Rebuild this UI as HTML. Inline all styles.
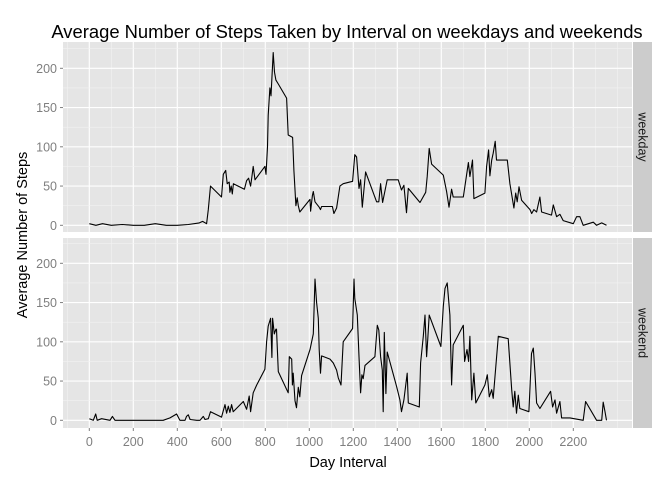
<!DOCTYPE html>
<html><head><meta charset="utf-8"><style>
body{margin:0;background:#fff;}
svg{display:block;font-family:"Liberation Sans",Arial,sans-serif;}
</style></head><body>
<svg id="chart" width="672" height="480" viewBox="0 0 672 480">
<rect width="672" height="480" fill="#fff"/>
<text x="347" y="38" text-anchor="middle" font-size="18.4" fill="#000">Average Number of Steps Taken by Interval on weekdays and weekends</text>
<text transform="translate(27,235) rotate(-90)" text-anchor="middle" font-size="14.5" fill="#000">Average Number of Steps</text>
<text x="348" y="467" text-anchor="middle" font-size="14.5" fill="#000">Day Interval</text>
<g id="panels"></g>
</svg>
<script>
const wdX=[0,30,60,100,150,200,250,300,350,400,450,500,515,533,541,551,601,609,620,627,636,639,645,650,655,705,715,724,733,738,745,753,798,803,810,813,821,826,836,842,848,859,897,904,924,930,939,945,950,957,1003,1006,1014,1018,1026,1045,1051,1056,1105,1112,1124,1139,1154,1197,1207,1215,1226,1233,1241,1256,1306,1316,1324,1333,1354,1404,1419,1430,1442,1450,1503,1529,1536,1545,1556,1609,1624,1635,1647,1654,1700,1706,1723,1730,1742,1748,1798,1806,1815,1821,1829,1836,1845,1851,1900,1912,1930,1938,1945,1953,1965,2003,2011,2021,2033,2048,2056,2101,2109,2124,2139,2154,2200,2215,2230,2245,2291,2306,2329,2351];
const wdY=[2,0,2,0,1,0,0,2,0,0,1,3,5,2,20,50,36,65,70,53,55,42,50,40,53,46,57,60,50,60,75,58,75,65,100,140,175,165,220,195,185,180,162,115,112,70,25,35,25,17,33,18,38,43,30,23,20,24,24,15,22,50,53,56,90,87,47,58,23,68,30,30,53,29,58,58,45,51,16,47,29,42,62,98,78,64,43,23,46,36,36,47,80,62,83,34,41,75,96,63,83,92,107,83,83,53,22,41,30,49,32,20,15,20,17,36,17,13,26,11,14,6,2,11,11,0,4,0,3,0];
const weX=[0,18,29,36,56,94,105,117,200,336,367,397,412,435,442,450,458,488,503,518,526,541,551,594,601,617,624,632,639,647,654,700,715,727,733,745,761,798,806,813,824,830,833,841,848,851,859,904,909,920,923,927,935,942,950,957,965,1003,1018,1026,1033,1041,1045,1051,1056,1094,1109,1124,1132,1144,1154,1197,1203,1207,1218,1226,1233,1239,1245,1253,1298,1309,1316,1324,1332,1336,1341,1348,1354,1397,1412,1419,1430,1445,1450,1500,1506,1518,1526,1533,1538,1545,1598,1609,1617,1627,1639,1647,1654,1700,1706,1717,1724,1730,1738,1748,1757,1798,1809,1818,1829,1836,1859,1904,1920,1927,1934,1942,1950,1957,1998,2010,2018,2026,2033,2048,2097,2106,2117,2124,2139,2147,2172,2185,2245,2256,2306,2329,2336,2344,2351];
const weY=[2,0,8,0,2,0,5,0,0,0,3,8,0,0,5,7,1,0,0,5,1,2,11,5,4,20,9,18,10,20,11,24,14,31,11,35,45,65,100,120,130,80,130,110,116,116,62,35,81,78,45,60,25,16,42,30,57,90,110,180,150,130,90,60,82,78,73,64,54,45,100,117,180,155,134,81,35,58,53,70,81,121,115,81,64,11,112,34,87,43,26,11,26,60,22,17,73,107,134,81,102,134,94,145,168,175,134,45,96,121,75,90,75,107,26,60,22,45,58,30,39,28,107,104,39,17,37,9,32,15,11,85,92,60,22,15,37,17,26,9,24,3,3,3,0,24,0,0,23,11,0];
const xTicks=[0,200,400,600,800,1000,1200,1400,1600,1800,2000,2200];
const yTicks=[0,50,100,150,200];
const facetNames=["weekday","weekend"];

const NS="http://www.w3.org/2000/svg";
const PL=63,PR=632,X0=89.3,XS=0.22,YS=0.785;
const panels=[{top:42,bot:232,zero:225.3},{top:238,bot:428,zero:420.3}];
const xs=v=>X0+v*XS;
function mk(t,a,p){const e=document.createElementNS(NS,t);for(const k in a)e.setAttribute(k,a[k]);p.appendChild(e);return e;}
const root=document.getElementById('panels');
const series=[[wdX,wdY],[weX,weY]];
panels.forEach((P,i)=>{
  const ys=v=>P.zero-v*YS;
  const g=mk('g',{},root);
  
  
  mk('rect',{x:PL,y:P.top,width:PR-PL,height:P.bot-P.top,fill:'#E5E5E5'},g);
  for(let v=-100;v<=2400;v+=100){const x=xs(v);if(x<PL||x>PR)continue;const major=xTicks.includes(v);
    mk('line',{x1:x,x2:x,y1:P.top,y2:P.bot,stroke:major?'#fff':'#F2F2F2','stroke-width':major?1.1:0.6},g);}
  for(let v=-25;v<=250;v+=25){const y=ys(v);if(y<P.top||y>P.bot)continue;const major=yTicks.includes(v);
    mk('line',{x1:PL,x2:PR,y1:y,y2:y,stroke:major?'#fff':'#F2F2F2','stroke-width':major?1.1:0.6},g);}
  yTicks.forEach(v=>{const y=ys(v);
    const t=mk('text',{x:PL-6,y:y+4.5,'text-anchor':'end','font-size':12.5,fill:'#7F7F7F'},g);t.textContent=v;
    
    
    mk('line',{x1:PL-3,x2:PL,y1:y,y2:y,stroke:'#7F7F7F'},g);});
  const [sx,sy]=series[i];
  const d=sx.map((v,k)=>(k?'L':'M')+xs(v).toFixed(1)+','+ys(sy[k]).toFixed(1)).join('');
  const path=mk('path',{d:d,fill:'none',stroke:'#000','stroke-width':1.1,'stroke-linejoin':'round'},g);
  
  
  const s=mk('rect',{x:633,y:P.top,width:19,height:P.bot-P.top,fill:'#CCCCCC'},g);
  
  
  const st=mk('text',{transform:`translate(638.5,${(P.top+P.bot)/2}) rotate(90)`,'text-anchor':'middle','font-size':12.5,fill:'#1a1a1a'},g);
  st.textContent=facetNames[i];
  
  
});
xTicks.forEach(v=>{const x=xs(v);
  mk('line',{x1:x,x2:x,y1:428,y2:431,stroke:'#7F7F7F'},root);
  const t=mk('text',{x:x,y:446,'text-anchor':'middle','font-size':12.5,fill:'#7F7F7F'},root);t.textContent=v;
  
  });
</script>
</body></html>
